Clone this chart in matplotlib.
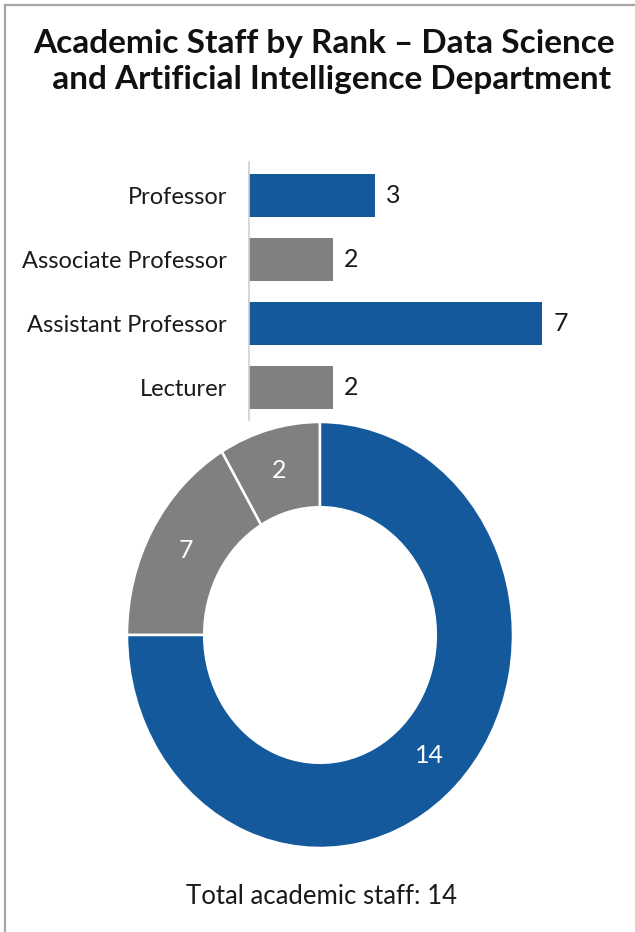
import matplotlib
matplotlib.use('Agg')
import matplotlib.pyplot as plt
from matplotlib.lines import Line2D

plt.rcParams['font.family'] = ['Lato', 'DejaVu Sans']

ranks = ['Professor', 'Associate Professor', 'Assistant Professor', 'Lecturer']
counts = [3, 2, 7, 2]
bar_colors = ['#15599d', '#808080', '#15599d', '#808080']

# ring: labels as printed, shares of the ring (%)
donut_labels = ['2', '7', '14']
donut_shares = [8.5, 16.5, 75]
donut_colors = ['#808080', '#808080', '#15599d']

title = 'Academic Staff by Rank – Data Science\n  and Artificial Intelligence Department'
footer = 'Total academic staff: 14'

W, H = 635, 932
fig = plt.figure(figsize=(W / 100, H / 100), dpi=100)
fig.patch.set_facecolor('white')


def box(x0, y0, x1, y1):
    # pixel box (top-left origin) -> figure fraction rect
    return [x0 / W, 1 - y1 / H, (x1 - x0) / W, (y1 - y0) / H]


# frame lines on left and top
fig.add_artist(Line2D([4.5 / W, 4.5 / W], [0, 1 - 4.5 / H], transform=fig.transFigure,
                      color='#a6a6a6', lw=1.6))
fig.add_artist(Line2D([4.5 / W, 1], [1 - 4.5 / H, 1 - 4.5 / H], transform=fig.transFigure,
                      color='#a6a6a6', lw=1.6))

fig.text(0.51, 1 - 29 / H, title, ha='center', va='top', fontsize=24,
         fontweight='bold', color='#111111', linespacing=1.3)

# bars
ax = fig.add_axes(box(249, 162, 600, 420))
y = list(range(len(ranks)))
ax.barh(y, counts, height=0.67, color=bar_colors)
ax.set_yticks(y)
ax.set_yticklabels(ranks, fontsize=17, color='#1a1a1a')
ax.tick_params(axis='y', length=0, pad=16)
ax.set_xticks([])
ax.set_xlim(0, 351 / 41.9)
ax.set_ylim(3 + 32.5 / 64, -33.5 / 64)
for s in ['top', 'right', 'bottom']:
    ax.spines[s].set_visible(False)
ax.spines['left'].set_color('#d0d0d0')
ax.spines['left'].set_linewidth(1.2)
for yi, v in zip(y, counts):
    ax.annotate(str(v), (v, yi), xytext=(8, 0), textcoords='offset points',
                va='center', ha='left', fontsize=18, color='#1a1a1a')

# donut
ax2 = fig.add_axes(box(127, 422, 513, 848))
wedges, texts, autotexts = ax2.pie(
    donut_shares, colors=donut_colors, startangle=90, counterclock=True,
    autopct='%1.0f', pctdistance=0.8,
    wedgeprops=dict(width=0.4, edgecolor='white', linewidth=1.8))
for t, lab in zip(autotexts, donut_labels):
    t.set_text(lab)
    t.set_color('white')
    t.set_fontsize(18)
for w in wedges:
    w.set_clip_on(False)
ax2.set_aspect('auto')
ax2.set_xlim(-1, 1)
ax2.set_ylim(-1, 1)
ax2.axis('off')

fig.text(321 / W, 1 - 897 / H, footer, ha='center', va='center', fontsize=18.5,
         color='#1a1a1a')

fig.savefig('out.png', dpi=100, facecolor='white')
